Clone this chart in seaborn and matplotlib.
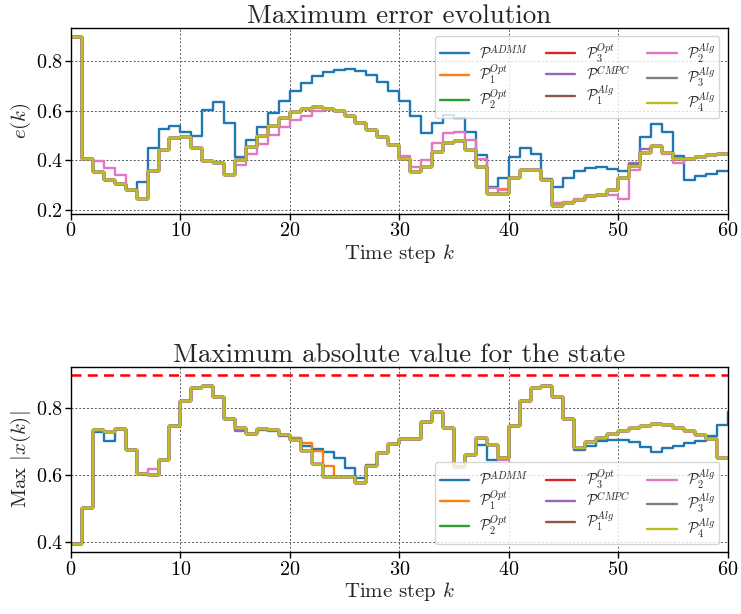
import matplotlib
matplotlib.use("Agg")
import matplotlib.pyplot as plt
import numpy as np
import seaborn as sns

# time steps
steps = list(range(61))

# ---- maximum error e(k) ----
e_alg = [0.90, 0.405, 0.354, 0.322, 0.304, 0.28, 0.243, 0.358, 0.442, 0.49,
         0.496, 0.45, 0.395, 0.388, 0.342, 0.399, 0.455, 0.50, 0.54, 0.572,
         0.596, 0.608, 0.615, 0.608, 0.599, 0.577, 0.55, 0.523, 0.493, 0.462,
         0.405, 0.354, 0.372, 0.435, 0.47, 0.476, 0.443, 0.373, 0.265, 0.265,
         0.328, 0.359, 0.359, 0.319, 0.216, 0.227, 0.24, 0.254, 0.261, 0.281,
         0.328, 0.376, 0.43, 0.457, 0.431, 0.403, 0.403, 0.414, 0.42, 0.427,
         0.427]
e_admm = [0.90, 0.405, 0.354, 0.322, 0.304, 0.28, 0.31, 0.451, 0.527, 0.54,
          0.516, 0.50, 0.604, 0.636, 0.551, 0.412, 0.48, 0.536, 0.59, 0.639,
          0.68, 0.713, 0.739, 0.757, 0.766, 0.768, 0.76, 0.743, 0.716, 0.682,
          0.639, 0.581, 0.511, 0.551, 0.584, 0.572, 0.516, 0.42, 0.292, 0.33,
          0.414, 0.45, 0.424, 0.323, 0.292, 0.328, 0.357, 0.369, 0.373, 0.366,
          0.355, 0.386, 0.495, 0.546, 0.515, 0.416, 0.319, 0.335, 0.346, 0.355,
          0.355]
e_p2alg = [0.90, 0.405, 0.396, 0.367, 0.342, 0.28, 0.243, 0.358, 0.442, 0.49,
           0.496, 0.45, 0.395, 0.388, 0.342, 0.381, 0.426, 0.466, 0.503, 0.536,
           0.563, 0.581, 0.60, 0.606, 0.599, 0.577, 0.55, 0.523, 0.493, 0.462,
           0.419, 0.372, 0.399, 0.47, 0.509, 0.514, 0.48, 0.407, 0.289, 0.278,
           0.328, 0.359, 0.359, 0.319, 0.225, 0.23, 0.245, 0.255, 0.26, 0.258,
           0.245, 0.359, 0.43, 0.457, 0.427, 0.389, 0.403, 0.414, 0.42, 0.427,
           0.427]
e_p1opt = e_alg[:39] + [0.285] + e_alg[40:]
e_cmpc = e_alg[:51] + [0.389, 0.445] + e_alg[53:]

# ---- maximum absolute state value ----
x_alg = [0.393, 0.501, 0.734, 0.728, 0.739, 0.674, 0.603, 0.60, 0.645, 0.748,
         0.822, 0.861, 0.866, 0.834, 0.769, 0.741, 0.724, 0.739, 0.734, 0.721,
         0.706, 0.673, 0.632, 0.595, 0.595, 0.593, 0.577, 0.627, 0.666, 0.694,
         0.708, 0.708, 0.76, 0.79, 0.741, 0.623, 0.659, 0.711, 0.691, 0.651,
         0.746, 0.822, 0.861, 0.866, 0.835, 0.769, 0.681, 0.698, 0.711, 0.724,
         0.733, 0.741, 0.748, 0.752, 0.749, 0.741, 0.731, 0.721, 0.709, 0.651,
         0.651]
x_admm = [0.393, 0.501, 0.728, 0.701, 0.739, 0.674, 0.603, 0.60, 0.645, 0.748,
          0.822, 0.861, 0.866, 0.834, 0.769, 0.741, 0.724, 0.734, 0.731, 0.716,
          0.712, 0.688, 0.678, 0.668, 0.651, 0.62, 0.592, 0.63, 0.666, 0.694,
          0.708, 0.708, 0.76, 0.79, 0.741, 0.623, 0.659, 0.691, 0.645, 0.651,
          0.746, 0.822, 0.861, 0.866, 0.835, 0.769, 0.674, 0.688, 0.701, 0.706,
          0.706, 0.698, 0.684, 0.668, 0.681, 0.688, 0.696, 0.703, 0.716, 0.749,
          0.79]
x_p1opt = x_alg[:20] + [0.711, 0.696, 0.671, 0.627] + x_alg[24:]
x_cmpc = x_alg[:15] + [0.731] + x_alg[16:]
x_p2alg = x_alg[:7] + [0.618] + x_alg[8:39] + [0.645] + x_alg[40:]
x_bound = 0.9

labels = [
    r"$\mathcal{P}^{ADMM}$", r"$\mathcal{P}_1^{Opt}$", r"$\mathcal{P}_2^{Opt}$",
    r"$\mathcal{P}_3^{Opt}$", r"$\mathcal{P}^{CMPC}$", r"$\mathcal{P}_1^{Alg}$",
    r"$\mathcal{P}_2^{Alg}$", r"$\mathcal{P}_3^{Alg}$", r"$\mathcal{P}_4^{Alg}$",
]
e_series = [e_admm, e_p1opt, e_alg, e_alg, e_cmpc, e_alg, e_p2alg, e_alg, e_alg]
x_series = [x_admm, x_p1opt, x_alg, x_alg, x_cmpc, x_alg, x_p2alg, x_alg, x_alg]

sns.set_style("ticks")
plt.rcParams.update({
    "font.family": ["cmr10", "DejaVu Serif"],
    "mathtext.fontset": "cm",
    "axes.formatter.use_mathtext": True,
    "axes.unicode_minus": False,
    "axes.edgecolor": "black",
    "axes.linewidth": 1.0,
    "xtick.color": "black",
    "ytick.color": "black",
})

palette = sns.color_palette("tab10", 9)

fig, axes = plt.subplots(2, 1, figsize=(7.41, 6.14), dpi=100)
fig.subplots_adjust(left=0.0958, right=0.9818, top=0.954, bottom=0.1002, hspace=0.82)


def draw(ax, series, title, ylabel, legend_loc):
    for vals, lab, col in zip(series, labels, palette):
        sns.lineplot(x=steps, y=vals, ax=ax, color=col, label=lab,
                     drawstyle="steps-post", linewidth=1.7, legend=False)
    ax.set_xlim(0, 60)
    ax.set_xticks(range(0, 61, 10))
    ax.grid(True, linestyle=(0, (2, 2)), color="0.35", linewidth=0.7)
    ax.set_title(title, fontsize=19.5, pad=2)
    ax.set_xlabel(r"Time step $k$", fontsize=15, labelpad=1)
    ax.set_ylabel(ylabel, fontsize=15, labelpad=2)
    ax.tick_params(labelsize=14.5, length=4, width=1, pad=2)
    for sp in ax.spines.values():
        sp.set_visible(True)
        sp.set_color("black")
    ax.legend(ncol=3, loc=legend_loc, fontsize=10.5, frameon=True,
              handlelength=2.0, handletextpad=0.7, columnspacing=1.2,
              labelspacing=0.05, borderaxespad=0.55, borderpad=0.3)


draw(axes[0], e_series, "Maximum error evolution", r"$e(k)$", "upper right")
axes[1].axhline(x_bound, color="red", linestyle="--", linewidth=1.8, dashes=(4, 2.5))
draw(axes[1], x_series, "Maximum absolute value for the state", r"Max $|x(k)|$", "lower right")
axes[0].set_yticks([0.2, 0.4, 0.6, 0.8])
axes[1].set_yticks([0.4, 0.6, 0.8])

fig.savefig("out.png", dpi=100)
